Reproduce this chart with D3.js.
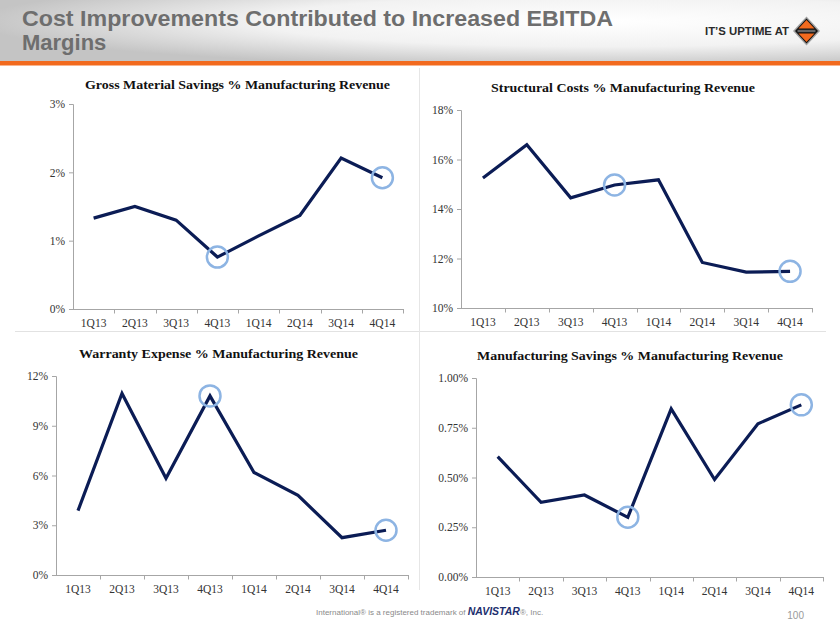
<!DOCTYPE html>
<html><head><meta charset="utf-8">
<script src="https://cdn.jsdelivr.net/npm/d3@7"></script>
<style>html,body{margin:0;padding:0;background:#fff;}svg{display:block;}</style>
</head><body>
<svg id="c" width="840" height="630"></svg>
<script>
// ---- data ----
const quarters = ["1Q13","2Q13","3Q13","4Q13","1Q14","2Q14","3Q14","4Q14"];
const grossMaterial = [1.33, 1.50, 1.30, 0.76, 1.07, 1.37, 2.21, 1.92];
const structuralCosts = [15.25, 16.6, 14.45, 14.97, 15.18, 11.84, 11.45, 11.48];
const warrantyExpense = [3.88, 10.95, 5.83, 10.8, 6.18, 4.8, 2.25, 2.7];
const mfgSavings = [0.605, 0.375, 0.412, 0.30, 0.845, 0.49, 0.77, 0.865];
const highlighted = ["4Q13", "4Q14"];
const ticksGross = [0, 1, 2, 3];
const ticksStruct = [10, 12, 14, 16, 18];
const ticksWarranty = [0, 3, 6, 9, 12];
const ticksSavings = [0, 0.25, 0.5, 0.75, 1.0];
const titleMain = ["Cost Improvements Contributed to Increased EBITDA", "Margins"];

const svg = d3.select("#c");
const defs = svg.append("defs");

// header
const rg = defs.append("radialGradient").attr("id","hg")
  .attr("cx","0.72").attr("cy","0.35").attr("r","0.75");
rg.append("stop").attr("offset","0").attr("stop-color","#ffffff");
rg.append("stop").attr("offset","0.55").attr("stop-color","#f2f2f2");
rg.append("stop").attr("offset","1").attr("stop-color","#c4c4c4");
svg.append("rect").attr("x",0).attr("y",0).attr("width",840).attr("height",61).attr("fill","url(#hg)");
svg.append("rect").attr("x",0).attr("y",61).attr("width",840).attr("height",4.5).attr("fill","#f26a1e");

const tt = svg.append("text")
  .attr("font-family","Liberation Sans, Arial, sans-serif").attr("font-weight","bold")
  .attr("font-size",22).attr("fill","#6e6e6e");
tt.append("tspan").attr("x",22).attr("y",26).text(titleMain[0])
  .attr("textLength",591).attr("lengthAdjust","spacingAndGlyphs");
tt.append("tspan").attr("x",22).attr("y",50).text(titleMain[1]);

// logo
svg.append("text").attr("x",705).attr("y",35)
  .attr("font-family","Liberation Sans, Arial, sans-serif").attr("font-weight","bold")
  .attr("font-size",11.5).attr("fill","#2a2a2a").text("IT\u2019S UPTIME AT")
  .attr("textLength",84).attr("lengthAdjust","spacingAndGlyphs");
const lg = svg.append("g").attr("transform","translate(806.5,31)");
lg.append("path").attr("d","M0,-14.5 L13.5,0 L0,14.5 L-13.5,0 Z").attr("fill","#a0a0a0");
lg.append("path").attr("d","M0,-12.5 L11.5,0 L0,12.5 L-11.5,0 Z").attr("fill","#111");
lg.append("path").attr("d","M0,-11 L8,-2.5 L-8,-2.5 Z").attr("fill","#f26a1e");
lg.append("path").attr("d","M0,11 L8,2.5 L-8,2.5 Z").attr("fill","#f26a1e");
lg.append("rect").attr("x",-9).attr("y",-1.2).attr("width",18).attr("height",2.4).attr("fill","#666");

// dividers
svg.append("line").attr("x1",15).attr("x2",826).attr("y1",331.5).attr("y2",331.5).attr("stroke","#e2e2e2").attr("stroke-width",1);
svg.append("line").attr("x1",419.5).attr("x2",419.5).attr("y1",68).attr("y2",590).attr("stroke","#e6e6e6").attr("stroke-width",1);

function chart(o){
  const g = svg.append("g");
  const x = d3.scaleBand().domain(quarters).range([o.x0, o.x1]).paddingInner(0).paddingOuter(0);
  const y = d3.scaleLinear().domain(o.domain).range([o.yBot, o.yTop]);
  // title
  g.append("text").attr("x",o.tx).attr("y",o.ty)
    .attr("font-family","Liberation Serif, Times New Roman, serif").attr("font-weight","bold")
    .attr("font-size",13).attr("fill","#111").text(o.title)
    .attr("textLength",o.tw).attr("lengthAdjust","spacingAndGlyphs");
  // y axis
  const ya = g.append("g").attr("transform",`translate(${o.x0},0)`)
    .call(d3.axisLeft(y).tickValues(o.ticks).tickSize(4).tickPadding(4).tickFormat(o.fmt));
  // x axis labels
  const xa = g.append("g").attr("transform",`translate(0,${o.yBot})`)
    .call(d3.axisBottom(x).tickSize(0).tickPadding(10));
  xa.select(".domain").remove();
  // x axis line + boundary ticks
  const xb = g.append("g").attr("transform",`translate(0,${o.yBot})`);
  xb.append("line").attr("x1",o.x0).attr("x2",o.x1).attr("y1",0.5).attr("y2",0.5).attr("stroke","#a6a6a6");
  xb.selectAll("line.t").data(quarters).enter().append("line").attr("class","t")
    .attr("x1",d=>Math.round(x(d)+x.bandwidth())+0.5).attr("x2",d=>Math.round(x(d)+x.bandwidth())+0.5)
    .attr("y1",0).attr("y2",4.5).attr("stroke","#a6a6a6");
  [ya, xa].forEach(a=>{
    a.selectAll("text").attr("font-family","Liberation Serif, Times New Roman, serif")
      .attr("font-size",11.5).attr("fill","#333");
    a.selectAll("line").attr("stroke","#a6a6a6");
    a.select(".domain").attr("stroke","#a6a6a6");
  });
  ya.select(".domain").attr("d",`M-4,${o.yTop+0.5}H0.5V${o.yBot+0.5}`);
  // line
  const line = d3.line().x((d,i)=>x(quarters[i])+x.bandwidth()/2).y(d=>y(d));
  g.append("path").datum(o.values).attr("d",line).attr("fill","none")
    .attr("stroke","#0b1c55").attr("stroke-width",3.2).attr("stroke-linejoin","miter");
  // highlight circles
  g.selectAll("circle").data(highlighted).enter().append("circle")
    .attr("cx",d=>x(d)+x.bandwidth()/2).attr("cy",d=>y(o.values[quarters.indexOf(d)]))
    .attr("r",10.5).attr("fill","none").attr("stroke","#8db4e3").attr("stroke-width",2.5);
}

const pct0 = d=>d3.format(".0f")(d)+"%";
const pct2 = d=>d3.format(".2f")(d)+"%";

chart({x0:73,x1:403,yTop:104,yBot:309,domain:[0,3],ticks:ticksGross,fmt:pct0,values:grossMaterial,
  title:"Gross Material Savings % Manufacturing Revenue",tx:85,ty:89,tw:305});
chart({x0:461,x1:812,yTop:110,yBot:308,domain:[10,18],ticks:ticksStruct,fmt:pct0,values:structuralCosts,
  title:"Structural Costs % Manufacturing Revenue",tx:491,ty:92,tw:264});
chart({x0:56,x1:408,yTop:376,yBot:575,domain:[0,12],ticks:ticksWarranty,fmt:pct0,values:warrantyExpense,
  title:"Warranty Expense % Manufacturing Revenue",tx:79,ty:358,tw:279});
chart({x0:476,x1:823,yTop:378,yBot:577,domain:[0,1],ticks:ticksSavings,fmt:pct2,values:mfgSavings,
  title:"Manufacturing Savings % Manufacturing Revenue",tx:477,ty:360,tw:306});

// footer
const ft = svg.append("text").attr("x",316).attr("y",615)
  .attr("font-family","Liberation Sans, Arial, sans-serif").attr("font-size",8).attr("fill","#8a8a8a");
ft.append("tspan").text("International\u00AE is a registered trademark of ");
ft.append("tspan").attr("font-weight","bold").attr("font-style","italic").attr("font-size",10.5)
  .attr("fill","#1c2e6e").text("NAVISTAR");
ft.append("tspan").text("\u00AE, Inc.");
svg.append("text").attr("x",804).attr("y",619).attr("text-anchor","end")
  .attr("font-family","Liberation Sans, Arial, sans-serif").attr("font-size",10).attr("fill","#9a9a9a").text("100");
</script>
</body></html>
